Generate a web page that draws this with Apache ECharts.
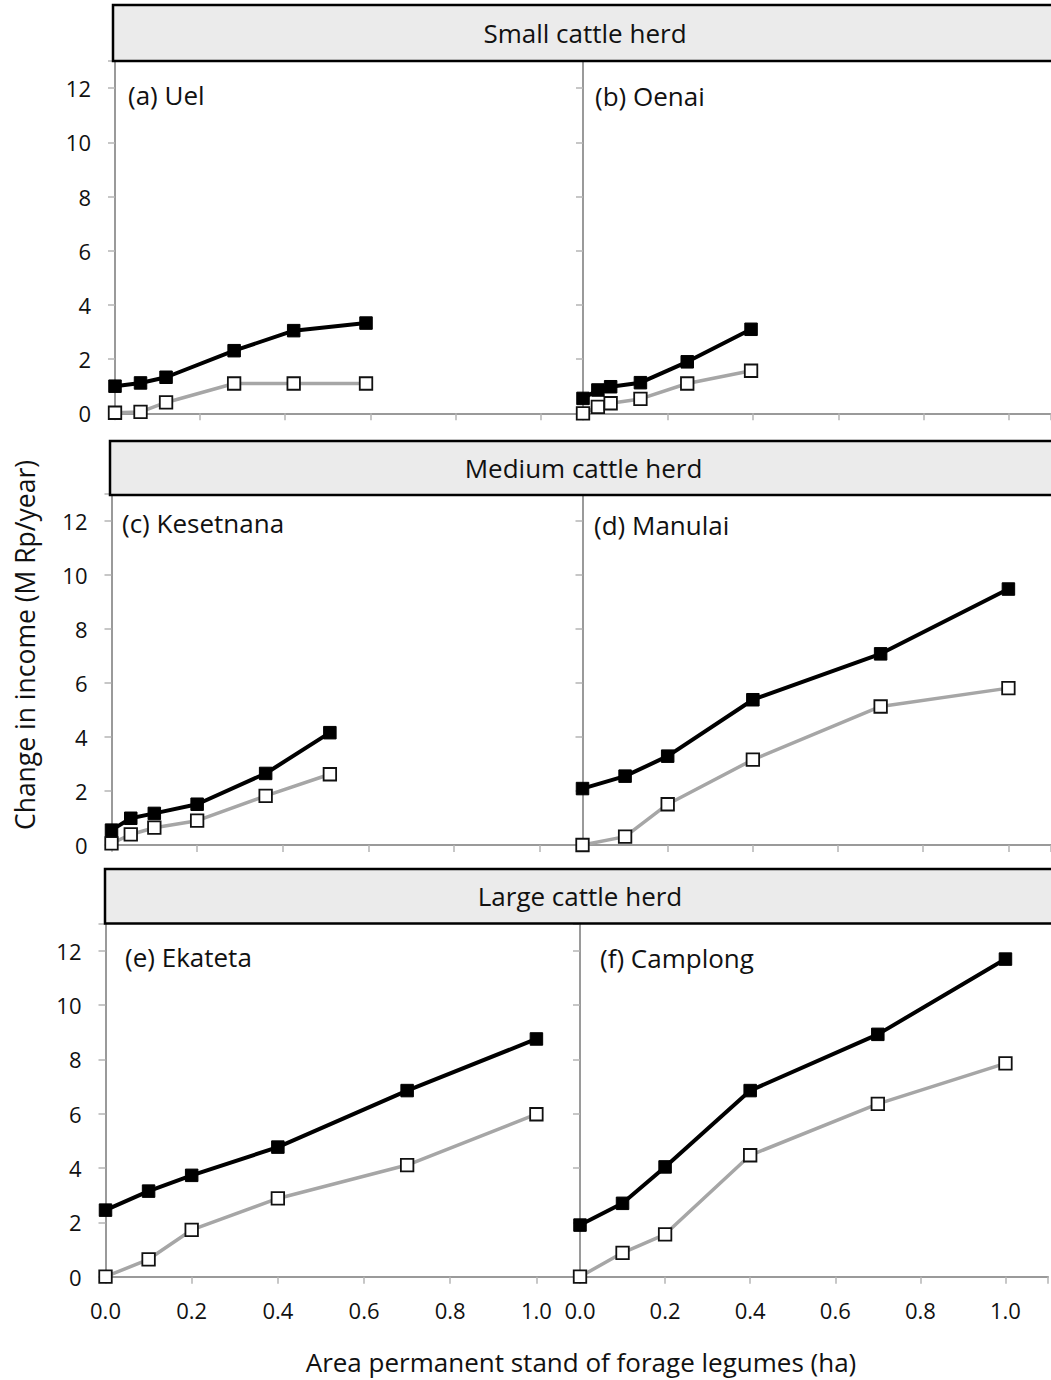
<!DOCTYPE html>
<html>
<head>
<meta charset="utf-8">
<script src="https://cdn.jsdelivr.net/npm/echarts@6/dist/echarts.min.js"></script>
<style>
html,body{margin:0;padding:0;background:#fff;}
#chart{width:1051px;height:1380px;}
</style>
</head>
<body>
<div id="chart"></div>
<script>
// ---- data ----
const rowTitles = ['Small cattle herd', 'Medium cattle herd', 'Large cattle herd'];
const panelTitles = ['(a) Uel', '(b) Oenai', '(c) Kesetnana', '(d) Manulai', '(e) Ekateta', '(f) Camplong'];
const yAxisTitle = 'Change in income (M Rp/year)';
const xAxisTitle = 'Area permanent stand of forage legumes (ha)';

const xUel = [0, 0.06, 0.12, 0.28, 0.42, 0.59];
const blackUel = [1.0, 1.12, 1.33, 2.31, 3.05, 3.33];
const whiteUel = [0.02, 0.05, 0.4, 1.1, 1.1, 1.1];

const xOenai = [0, 0.035, 0.065, 0.135, 0.245, 0.395];
const blackOenai = [0.55, 0.86, 0.98, 1.13, 1.9, 3.1];
const whiteOenai = [0.0, 0.24, 0.37, 0.53, 1.1, 1.57];

const xKesetnana = [0, 0.045, 0.1, 0.2, 0.36, 0.51];
const blackKesetnana = [0.55, 0.99, 1.17, 1.51, 2.65, 4.16];
const whiteKesetnana = [0.06, 0.39, 0.64, 0.9, 1.82, 2.62];

const xManulai = [0, 0.1, 0.2, 0.4, 0.7, 1.0];
const blackManulai = [2.09, 2.55, 3.29, 5.38, 7.08, 9.48];
const whiteManulai = [0.0, 0.31, 1.51, 3.16, 5.13, 5.81];

const xEkateta = [0, 0.1, 0.2, 0.4, 0.7, 1.0];
const blackEkateta = [2.45, 3.15, 3.73, 4.77, 6.85, 8.75];
const whiteEkateta = [0.0, 0.64, 1.72, 2.88, 4.11, 5.98];

const xCamplong = [0, 0.1, 0.2, 0.4, 0.7, 1.0];
const blackCamplong = [1.9, 2.7, 4.04, 6.85, 8.92, 11.69];
const whiteCamplong = [0.0, 0.88, 1.56, 4.47, 6.36, 7.85];

const yTicks = [0, 2, 4, 6, 8, 10, 12];
const xTicks = [0, 0.2, 0.4, 0.6, 0.8, 1.0];

const panels = [
  {x: xUel, b: blackUel, w: whiteUel},
  {x: xOenai, b: blackOenai, w: whiteOenai},
  {x: xKesetnana, b: blackKesetnana, w: whiteKesetnana},
  {x: xManulai, b: blackManulai, w: whiteManulai},
  {x: xEkateta, b: blackEkateta, w: whiteEkateta},
  {x: xCamplong, b: blackCamplong, w: whiteCamplong}
];

// ---- layout ----
const FONT = '"Open Sans", Carlito, Lato, sans-serif';
const grids = [
  {left: 115, top: 61, width: 468, height: 352.3},
  {left: 583, top: 61, width: 474, height: 352.3},
  {left: 111.5, top: 494, width: 471, height: 351},
  {left: 582.5, top: 494, width: 473, height: 351},
  {left: 105.5, top: 923.5, width: 474, height: 353.2},
  {left: 580, top: 923.5, width: 473, height: 353.2}
];
const headers = [
  {x: 113, y: 5, h: 56, tx: 585, ty: 33},
  {x: 110, y: 441, h: 54, tx: 583.5, ty: 468},
  {x: 105, y: 869, h: 54.5, tx: 580, ty: 896}
];
const labelPos = [[128, 95], [595, 96], [122, 523], [594, 525], [125, 957], [600, 958]];

const axisGray = '#9a9a9a';
const tickGray = '#b4b4b4';
const option = {
  animation: false,
  backgroundColor: '#fff',
  grid: grids.map(g => Object.assign({containLabel: false}, g)),
  xAxis: grids.map((g, i) => ({
    type: 'value', gridIndex: i, min: 0, max: 1.1, interval: 0.2,
    axisLine: {show: true, onZero: false, lineStyle: {color: axisGray, width: 2}},
    axisTick: {show: true, inside: false, length: 7, lineStyle: {color: tickGray, width: 1.5}},
    splitLine: {show: false},
    axisLabel: {
      show: i >= 4, margin: 22, fontSize: 22, color: '#111', fontFamily: FONT,
      formatter: v => (xTicks.some(t => Math.abs(t - v) < 1e-6) ? v.toFixed(1) : '')
    }
  })),
  yAxis: grids.map((g, i) => ({
    type: 'value', gridIndex: i, min: 0, max: 13, interval: 2,
    axisLine: {show: true, onZero: false, lineStyle: {color: axisGray, width: 2}},
    axisTick: {show: true, inside: false, length: 7, lineStyle: {color: tickGray, width: 1.5}},
    splitLine: {show: false},
    axisLabel: {
      show: i % 2 === 0, margin: 24, fontSize: 22, color: '#111', fontFamily: FONT,
      formatter: v => (yTicks.indexOf(v) >= 0 ? String(v) : '')
    }
  })),
  series: [],
  graphic: []
};

panels.forEach((p, i) => {
  option.series.push({
    type: 'line', xAxisIndex: i, yAxisIndex: i, z: 3,
    data: p.w.map((v, k) => [p.x[k], v]),
    symbol: 'rect', symbolSize: 12.5,
    lineStyle: {color: '#a6a6a6', width: 3.5},
    itemStyle: {color: '#ffffff', borderColor: '#111', borderWidth: 1.8}
  });
  option.series.push({
    type: 'line', xAxisIndex: i, yAxisIndex: i, z: 4,
    data: p.b.map((v, k) => [p.x[k], v]),
    symbol: 'rect', symbolSize: 12.5,
    lineStyle: {color: '#000', width: 4},
    itemStyle: {color: '#000', borderColor: '#000', borderWidth: 1}
  });
});

headers.forEach((h, r) => {
  option.graphic.push({
    type: 'rect', z: 10,
    shape: {x: h.x, y: h.y, width: 1100 - h.x, height: h.h},
    style: {fill: '#ebebeb', stroke: '#000', lineWidth: 2.5}
  });
  option.graphic.push({
    type: 'text', z: 11, x: h.tx, y: h.ty,
    style: {text: rowTitles[r], fill: '#111', font: '26px ' + FONT, textAlign: 'center', textVerticalAlign: 'middle'}
  });
});

labelPos.forEach((pos, i) => {
  option.graphic.push({
    type: 'text', z: 11, x: pos[0], y: pos[1],
    style: {text: panelTitles[i], fill: '#111', font: '26px ' + FONT, textAlign: 'left', textVerticalAlign: 'middle'}
  });
});

option.graphic.push({
  type: 'text', z: 11, x: 25, y: 645, rotation: Math.PI / 2,
  style: {text: yAxisTitle, fill: '#111', font: '26.5px ' + FONT, textAlign: 'center', textVerticalAlign: 'middle'}
});
option.graphic.push({
  type: 'text', z: 11, x: 581, y: 1362,
  style: {text: xAxisTitle, fill: '#111', font: '26px ' + FONT, textAlign: 'center', textVerticalAlign: 'middle'}
});

const chart = echarts.init(document.getElementById('chart'), null, {renderer: 'svg', width: 1051, height: 1380});
chart.setOption(option);
</script>
</body>
</html>
